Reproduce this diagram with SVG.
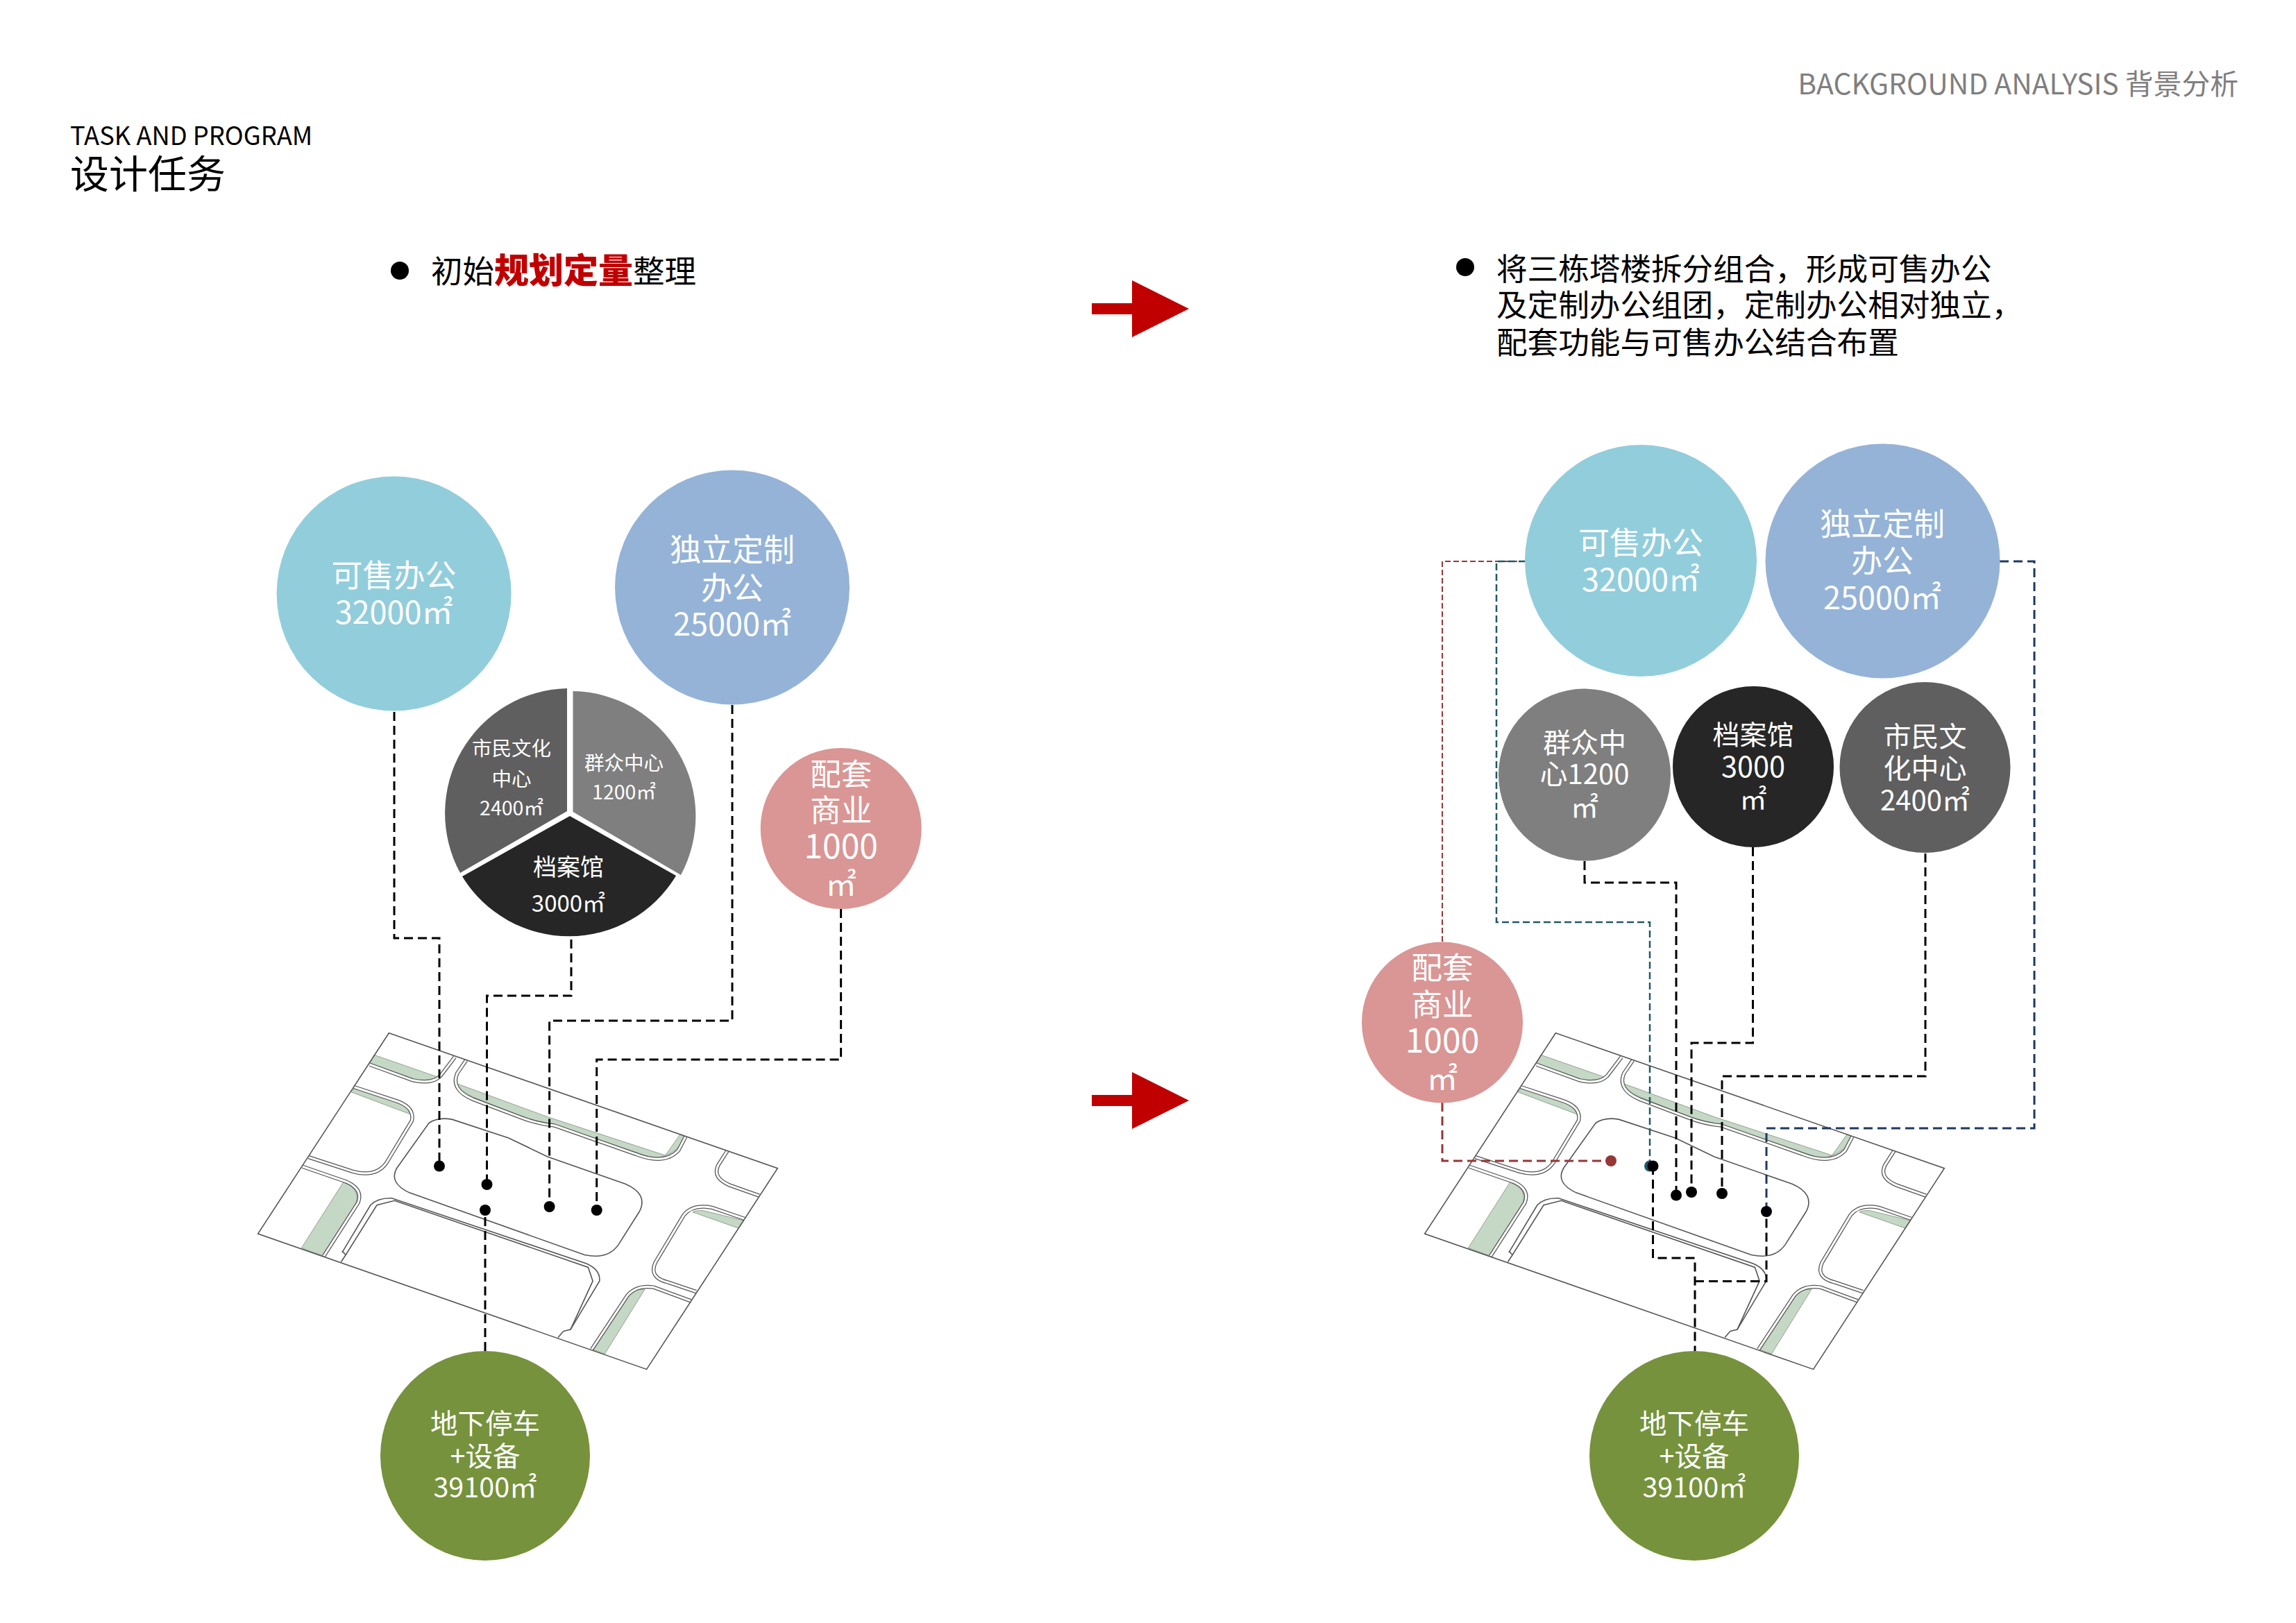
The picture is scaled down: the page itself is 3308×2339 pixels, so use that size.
<svg xmlns="http://www.w3.org/2000/svg" xmlns:xlink="http://www.w3.org/1999/xlink" width="3308" height="2339" viewBox="0 0 3308 2339">
<style>
text{font-family:"Noto Sans CJK SC","Noto Sans",sans-serif}
.w{fill:#fff;text-anchor:middle}
.k{fill:#000}
path{vector-effect:non-scaling-stroke}
.g{fill:#c5d8c5;stroke:#7f8f7f;stroke-width:.8}
.c1{fill:none;stroke:#555;stroke-width:5.5}
.c2{fill:none;stroke:#fff;stroke-width:3}
.o{fill:none;stroke:#555;stroke-width:1.6}
.d{fill:none;stroke:#000;stroke-width:3;stroke-dasharray:13 7}
.dr{fill:none;stroke:#953735;stroke-width:3;stroke-dasharray:13 7}
.drt{fill:none;stroke:#953735;stroke-width:2;stroke-dasharray:8 4}
.dt{fill:none;stroke:#215868;stroke-width:2.5;stroke-dasharray:10 5}
.dn{fill:none;stroke:#1f3864;stroke-width:3;stroke-dasharray:13 7}
.arrow{fill:#c00000}
</style>
<defs>
<g id="curbs">
<path d="M378 235L500 298Q555 315 578 280L618 205"/>
<path d="M650 218L625 270Q605 335 670 375L810 450Q850 472 900 480L1130 595Q1210 640 1250 580L1270 525"/>
<path d="M333 325L450 380Q505 405 497 460L425 630Q395 690 330 665L205 607"/>
<path d="M188 645L310 705Q360 735 345 790L248 1005"/>
<path d="M1388 582L1362 640Q1345 690 1395 720L1478 762"/>
<path d="M1437 855L1345 810Q1290 795 1265 840L1185 1030Q1165 1090 1220 1110L1300 1148"/>
<path d="M1285 1185L1180 1130Q1130 1120 1105 1165L1005 1380"/>
</g>
<g id="plan" transform="translate(340 1450) scale(.51 .3585)">
<path class="g" d="M390 196L570 285Q545 305 510 298L378 232Z"/>
<path class="g" d="M625 312L880 445L1213 600L1255 515L1270 525Q1245 600 1180 612L900 478L850 465L800 440L670 365Q630 340 625 312Z"/>
<path class="g" d="M325 345L493 435Q480 385 445 378L335 330Z"/>
<path class="g" d="M303 708L185 972L245 1003L340 790Q350 730 303 708Z"/>
<path class="g" d="M1290 828Q1300 820 1320 822L1435 862L1420 893Z"/>
<path class="g" d="M1155 1138L1042 1398L1010 1382L1105 1170Q1125 1135 1155 1138Z"/>
<use xlink:href="#curbs" class="c1"/>
<use xlink:href="#curbs" class="c2"/>
<path class="o" d="M300 990L380 800Q400 770 440 772L990 1035Q1030 1060 1027 1105L945 1300L925 1307"/>
<path class="o" d="M297 1028L310 1000L300 985M310 1000L398 800L448 782L995 1050L1008 1105L945 1300M925 1307L910 1332"/>
<path class="o" d="M610 455Q570 445 545 470L455 650Q430 710 490 750L985 1000Q1050 1020 1080 960L1140 825Q1165 755 1100 715L880 605L770 530Z"/>
<path class="o" d="M432 108L1530 652L1160 1460L62 915Z"/>
</g>
</defs>

<g id="header">
<text class="k"><tspan x="101" y="209" font-size="36.3">TASK AND PROGRAM</tspan><tspan x="101" y="271" font-size="56">设计任务</tspan></text>
<text x="3225" y="136" font-size="40.8" fill="#7f7f7f" text-anchor="end">BACKGROUND ANALYSIS 背景分析</text>
</g>

<g id="note-left">
<circle cx="576" cy="390" r="13" fill="#000"/>
<text x="621" y="408" font-size="45.5" class="k">初始<tspan fill="#c00000" font-weight="900" font-size="50">规划定量</tspan>整理</text>
</g>
<g id="note-right">
<circle cx="2111" cy="385" r="13" fill="#000"/>
<text font-size="44.6" class="k"><tspan x="2156" y="404">将三栋塔楼拆分组合，形成可售办公</tspan><tspan x="2156" y="456">及定制办公组团，定制办公相对独立，</tspan><tspan x="2156" y="510">配套功能与可售办公结合布置</tspan></text>
</g>

<g id="arrow-1"><path class="arrow" d="M1573 437H1631V404L1713 445L1631 486V453H1573Z"/></g>
<g id="arrow-2"><path class="arrow" d="M1573 1578H1631V1545L1713 1586L1631 1627V1594H1573Z"/></g>

<g id="plan-left"><use xlink:href="#plan"/></g>
<g id="plan-right"><use xlink:href="#plan" transform="translate(1681 0)"/></g>

<g id="connectors" transform="translate(0 2)">
<path class="d" d="M568 1024V1350H633V1678"/>
<path class="d" d="M823 1352V1433H701.5V1705"/>
<path class="d" d="M1055 1014V1469H791.6V1737"/>
<path class="d" d="M1211.6 1308V1525H859.7V1742"/>
<path class="d" d="M699 1945V1742"/>
<circle cx="633" cy="1678.5" r="8"/><circle cx="701.5" cy="1705" r="8"/><circle cx="699" cy="1742" r="8"/><circle cx="791.6" cy="1737" r="8"/><circle cx="859.7" cy="1742" r="8"/>

<path class="drt" d="M2198 807H2078V1356"/>
<path class="dr" d="M2078 1587V1671H2321"/>
<circle cx="2321" cy="1671" r="8" fill="#953735"/>
<path class="dt" d="M2198 807H2156V1327H2377V1678"/>
<circle cx="2377" cy="1678.5" r="8" fill="#215868"/>
<path class="dn" d="M2881 807H2931V1624H2545V1744"/>
<path class="d" d="M2381.5 1678V1811H2442V1945"/>
<path class="d" d="M2442 1844.5H2545V1744"/>
<path class="d" d="M2283 1239V1270H2415V1720"/>
<path class="d" d="M2525.5 1219V1501H2437V1716"/>
<path class="d" d="M2774 1228V1549H2481V1718"/>
<circle cx="2381.5" cy="1678.5" r="8"/><circle cx="2415" cy="1720.5" r="8"/><circle cx="2437" cy="1716" r="8"/><circle cx="2481" cy="1718" r="8"/><circle cx="2545" cy="1744" r="8"/>
</g>

<g id="node-office-left"><circle cx="567.6" cy="855.5" r="169" fill="#92cddc"/>
<text class="w" font-size="45"><tspan x="567.6" y="846">可售办公</tspan><tspan x="567.6" y="899">32000㎡</tspan></text></g>
<g id="node-custom-left"><circle cx="1055" cy="846.5" r="169" fill="#95b3d7"/>
<text class="w" font-size="45"><tspan x="1055" y="809">独立定制</tspan><tspan x="1055" y="864">办公</tspan><tspan x="1055" y="916">25000㎡</tspan></text></g>

<g id="node-pie" transform="translate(0 1)">
<path fill="#7f7f7f" d="M825.5 1169V995A180 180 0 0 1 981 1260Z"/>
<path fill="#5f5f5f" d="M817 1168V991A180 180 0 0 0 663 1257Z"/>
<path fill="#262626" d="M821 1175L974 1261A180 180 0 0 1 666 1262Z"/>
<text class="w" font-size="28.5"><tspan x="737" y="1088">市民文化</tspan><tspan x="737" y="1132">中心</tspan><tspan x="737" y="1174">2400㎡</tspan></text>
<text class="w" font-size="28.5"><tspan x="899" y="1109">群众中心</tspan><tspan x="899" y="1151">1200㎡</tspan></text>
<text class="w"><tspan font-size="34" x="819" y="1261">档案馆</tspan><tspan font-size="33" x="819" y="1313">3000㎡</tspan></text>
</g>

<g id="node-retail-left"><circle cx="1211.7" cy="1194" r="116" fill="#d99694"/>
<text class="w" font-size="44.5"><tspan x="1211.7" y="1132">配套</tspan><tspan x="1211.7" y="1184">商业</tspan><tspan x="1211.7" y="1237" font-size="48">1000</tspan><tspan x="1211.7" y="1291">㎡</tspan></text></g>

<g id="node-parking-left"><circle cx="699" cy="2098" r="151" fill="#76923c"/>
<text class="w" font-size="39.5"><tspan x="699" y="2066">地下停车</tspan><tspan x="699" y="2113">+设备</tspan><tspan x="699" y="2158">39100㎡</tspan></text></g>

<g id="node-office-right"><circle cx="2364" cy="808" r="167" fill="#92cddc"/>
<text class="w" font-size="45"><tspan x="2364" y="799">可售办公</tspan><tspan x="2364" y="852">32000㎡</tspan></text></g>
<g id="node-custom-right"><circle cx="2712.5" cy="808.5" r="169" fill="#95b3d7"/>
<text class="w" font-size="45"><tspan x="2712" y="772">独立定制</tspan><tspan x="2712" y="825">办公</tspan><tspan x="2712" y="878">25000㎡</tspan></text></g>
<g id="node-mass-right"><circle cx="2283" cy="1116.6" r="124" fill="#7f7f7f"/>
<text class="w" font-size="40"><tspan x="2283" y="1085">群众中</tspan><tspan x="2283" y="1130">心1200</tspan><tspan x="2283" y="1178">㎡</tspan></text></g>
<g id="node-archive-right"><circle cx="2526" cy="1105" r="116" fill="#262626"/>
<text class="w" font-size="39"><tspan x="2526" y="1073">档案馆</tspan><tspan x="2526" y="1120" font-size="41.5">3000</tspan><tspan x="2526" y="1166">㎡</tspan></text></g>
<g id="node-culture-right"><circle cx="2773.5" cy="1106" r="123" fill="#5f5f5f"/>
<text class="w" font-size="40"><tspan x="2773.5" y="1076">市民文</tspan><tspan x="2773.5" y="1122">化中心</tspan><tspan x="2773.5" y="1168">2400㎡</tspan></text></g>
<g id="node-retail-right"><circle cx="2078" cy="1473.5" r="116" fill="#d99694"/>
<text class="w" font-size="44.5"><tspan x="2078" y="1411">配套</tspan><tspan x="2078" y="1464">商业</tspan><tspan x="2078" y="1517" font-size="48">1000</tspan><tspan x="2078" y="1571">㎡</tspan></text></g>
<g id="node-parking-right"><circle cx="2441" cy="2098" r="151" fill="#76923c"/>
<text class="w" font-size="39.5"><tspan x="2441" y="2066">地下停车</tspan><tspan x="2441" y="2113">+设备</tspan><tspan x="2441" y="2158">39100㎡</tspan></text></g>
</svg>
